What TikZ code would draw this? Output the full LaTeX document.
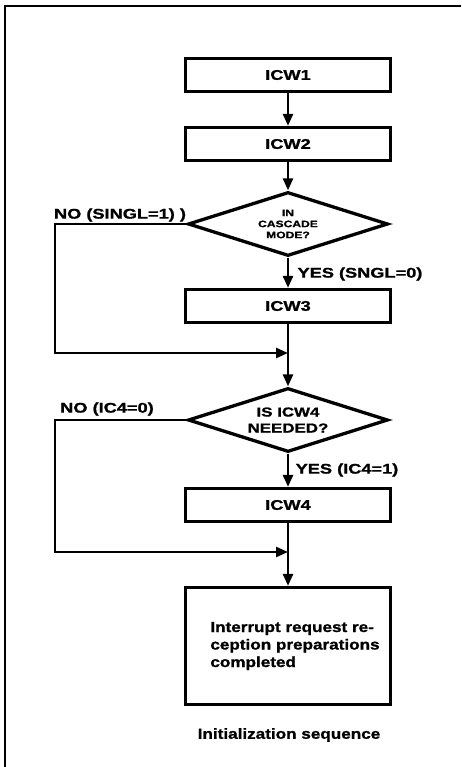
\documentclass[tikz,border=0pt]{standalone}
\usepackage{fontspec}
\setmainfont{Liberation Sans}
\newfontfamily\lblfont{Liberation Sans}[FakeStretch=1.3,FakeBold=1.2]
\newfontfamily\txtfont{Liberation Sans}[FakeStretch=1.18,FakeBold=1.2]
\usepackage{tikz}
\usetikzlibrary{shapes.geometric,arrows.meta}
\begin{document}
\begin{tikzpicture}[x=1pt,y=-1pt,
  stepbox/.style={draw,line width=3.3pt,minimum width=205pt,minimum height=33pt,inner sep=0pt,font=\lblfont\bfseries\fontsize{14}{16}\selectfont},
  decide/.style={draw,diamond,aspect=3,line width=3.3pt,minimum width=200pt,minimum height=64pt,inner sep=0pt,align=center},
  lbl/.style={inner sep=0pt,font=\lblfont\bfseries\fontsize{14}{16}\selectfont},
  flow/.style={line width=2.6pt,-{Triangle[length=12pt,width=10pt]}}]
\useasboundingbox (0,0) rectangle (461,767);
\draw[line width=2.6pt] (461,6) -- (5,6) -- (5,767);
\node[stepbox] (icw1) at (288,75) {ICW1};
\node[stepbox] (icw2) at (288,144) {ICW2};
\node[decide,font=\lblfont\bfseries\fontsize{9.3}{11}\selectfont] (cascade) at (288,224) {IN\\CASCADE\\MODE?};
\node[stepbox] (icw3) at (288,306) {ICW3};
\node[decide,font=\lblfont\bfseries\fontsize{13}{16}\selectfont] (need4) at (288,420) {IS ICW4\\NEEDED?};
\node[stepbox] (icw4) at (288,505) {ICW4};
\node[stepbox,minimum height=117pt,font=\txtfont\bfseries\fontsize{14.5}{17.5}\selectfont] (done) at (288,646)
  {\hspace*{14pt}\begin{tabular}{@{}l@{}}Interrupt request re-\\ception preparations\\completed\end{tabular}};
\node[inner sep=0pt,font=\txtfont\bfseries\fontsize{14.5}{17.5}\selectfont] (title) at (289,735) {Initialization sequence};
\node[lbl] (no1) at (120,215) {NO (SINGL=1) )};
\node[lbl] (yes1) at (360,274) {YES (SNGL=0)};
\node[lbl] (no2) at (107,409) {NO (IC4=0)};
\node[lbl] (yes2) at (347,470) {YES (IC4=1)};
\coordinate (side) at (55,0);
\coordinate (join1) at (288,353);
\coordinate (join2) at (288,552);
\draw[flow] (icw1) -- (icw2);
\draw[flow] (icw2) -- (cascade);
\draw[flow] (cascade) -- (icw3);
\draw[flow] (cascade.west) -- (cascade.west -| side) |- (join1);
\draw[flow] (icw3) -- (need4);
\draw[flow] (need4) -- (icw4);
\draw[flow] (need4.west) -- (need4.west -| side) |- (join2);
\draw[flow] (icw4) -- (done);
\end{tikzpicture}
\end{document}
